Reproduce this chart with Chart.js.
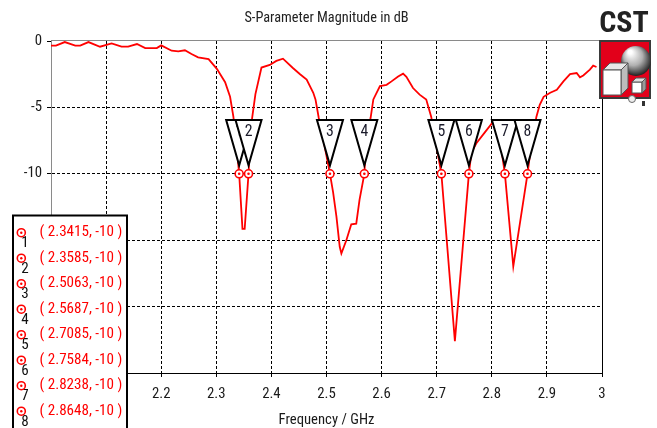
<!DOCTYPE html>
<html><head><meta charset="utf-8">
<script src="https://cdn.jsdelivr.net/npm/chart.js@4.4.0/dist/chart.umd.min.js"></script>
<style>html,body{margin:0;padding:0;background:#fff;overflow:hidden}#wrap{width:657px;height:428px}</style>
</head><body><div id="wrap"><canvas id="c" width="657" height="428"></canvas></div>
<script>
// ---- data ----
const freqGHz = [2.000,2.009,2.025,2.044,2.053,2.068,2.089,2.110,2.128,2.140,2.156,2.171,2.192,2.200,2.219,2.231,2.243,2.255,2.267,2.286,2.301,2.316,2.325,2.331,2.337,2.3415,2.3475,2.3515,2.3585,2.362,2.365,2.371,2.382,2.397,2.409,2.421,2.439,2.452,2.464,2.476,2.480,2.486,2.496,2.5063,2.512,2.518,2.524,2.527,2.536,2.545,2.554,2.560,2.5687,2.572,2.580,2.585,2.597,2.609,2.618,2.630,2.639,2.645,2.657,2.669,2.681,2.690,2.700,2.7085,2.733,2.7584,2.763,2.772,2.787,2.800,2.806,2.815,2.8238,2.839,2.8648,2.872,2.881,2.887,2.894,2.906,2.918,2.930,2.942,2.954,2.960,2.966,2.978,2.984,2.990];
const s11dB   = [-0.35,-0.35,-0.08,-0.35,-0.35,-0.08,-0.43,-0.18,-0.43,-0.43,-0.23,-0.53,-0.53,-0.33,-0.73,-0.78,-0.70,-0.98,-1.23,-1.36,-2.10,-3.10,-4.20,-5.70,-8.0,-10,-14.15,-14.15,-10,-7.2,-5.8,-4.0,-2.0,-1.8,-1.5,-1.33,-2.03,-2.5,-2.9,-3.9,-4.4,-5.8,-7.8,-10,-11.4,-13.2,-15.5,-16.0,-15.0,-13.8,-13.76,-11.95,-10,-7.4,-5.8,-4.4,-3.4,-3.3,-3.04,-2.67,-2.46,-2.7,-3.54,-4.04,-4.4,-5.7,-8.0,-10,-22.6,-10,-8.4,-7.7,-6.9,-6.2,-6.05,-7.5,-10,-16.97,-10,-7.7,-5.7,-4.8,-4.2,-3.9,-3.67,-3.04,-2.5,-2.41,-2.74,-2.6,-2.16,-1.86,-1.96];
const markerFreq = [2.3415,2.3585,2.5063,2.5687,2.7085,2.7584,2.8238,2.8648];
const markerDb   = [-10,-10,-10,-10,-10,-10,-10,-10];
const markerIds  = ['1','2','3','4','5','6','7','8'];
const xTickValues = [2,2.1,2.2,2.3,2.4,2.5,2.6,2.7,2.8,2.9,3];
const xTickLabels = ['2','2.1','2.2','2.3','2.4','2.5','2.6','2.7','2.8','2.9','3'];
const yTickValues = [0,-5,-10,-15,-20,-25];
const yTickLabels = ['0','-5','-10','-15','-20','-25'];
const chartTitle = 'S-Parameter Magnitude in dB';
const xAxisTitle = 'Frequency / GHz';
const logoText = 'CST';

// ---- font selection ----
function hasFont(f){const c=document.createElement('canvas').getContext('2d');c.font='40px monospace';const a=c.measureText('mmwwiilQ.,12').width;c.font='40px "'+f+'", monospace';return c.measureText('mmwwiilQ.,12').width!==a;}
const FONT = ['Roboto Condensed','DejaVu Sans Condensed','Liberation Sans'].find(hasFont) || 'sans-serif';
const FF = '"'+FONT+'", sans-serif';
const mctx = document.createElement('canvas').getContext('2d');
function fit(text, w, weight){mctx.font=(weight||'normal')+' 100px '+FF;return Math.round(1000*w/mctx.measureText(text).width)/10;}
const titleSize = Math.min(17, fit(chartTitle,164));
const tickSize = Math.min(16, fit('2.2',18.5));
const axisTitleSize = Math.min(16, fit(xAxisTitle,96));
const legendSize = Math.min(16, fit('( 2.3415, -10 )',83));
const logoSize = Math.min(30, fit(logoText,53,'bold'));

const RED = '#ff0000';

function ring(ctx,x,y){
  ctx.beginPath();ctx.arc(x,y,4,0,Math.PI*2);ctx.fillStyle='#fff';ctx.fill();
  ctx.lineWidth=1.6;ctx.strokeStyle=RED;ctx.stroke();
  ctx.beginPath();ctx.arc(x,y,1.2,0,Math.PI*2);ctx.fillStyle=RED;ctx.fill();
}

const titlePlugin = {
  id:'plotTitle',
  afterDraw(chart){
    const {ctx, chartArea:a} = chart;
    ctx.save();
    ctx.fillStyle='#222';ctx.font=titleSize+'px '+FF;ctx.textAlign='center';ctx.textBaseline='middle';
    ctx.fillText(chartTitle,(a.left+a.right)/2,18.5);
    ctx.restore();
  }
};

const framePlugin = {
  id:'frame',
  beforeDatasetsDraw(chart){
    const {ctx, chartArea:a} = chart;
    ctx.save();
    ctx.lineWidth=1;
    ctx.strokeStyle='#8a8a8a';
    ctx.beginPath();ctx.moveTo(a.left,Math.round(a.top)-0.5);ctx.lineTo(a.right,Math.round(a.top)-0.5);ctx.stroke();
    ctx.strokeStyle='#000';
    ctx.beginPath();ctx.moveTo(Math.round(a.right)+0.5,a.top);ctx.lineTo(Math.round(a.right)+0.5,a.bottom);ctx.stroke();
    ctx.restore();
  }
};

const trianglePlugin = {
  id:'markerTriangles',
  afterDatasetDraw(chart,args){
    if(chart.data.datasets[args.index].label!=='S1,1') return;
    const ctx=chart.ctx;
    const pts=chart.getDatasetMeta(1).data;
    ctx.save();
    pts.forEach((p,i)=>{
      const x=p.x, y=p.y;
      ctx.beginPath();
      ctx.moveTo(x-13,y-53.7);ctx.lineTo(x+13,y-53.7);ctx.lineTo(x,y-8.5);ctx.closePath();
      ctx.fillStyle='#fff';ctx.fill();
      ctx.lineWidth=2;ctx.strokeStyle='#000';ctx.lineJoin='miter';ctx.stroke();
      ctx.fillStyle='#1a1a2a';ctx.font=(tickSize+1)+'px '+FF;ctx.textAlign='center';ctx.textBaseline='middle';
      ctx.fillText(markerIds[i],x,y-41.5);
    });
    ctx.restore();
  }
};

const tablePlugin = {
  id:'markerTable',
  afterDraw(chart){
    const ctx=chart.ctx;
    const x0=13,y0=215.5,w=114,h=240;
    ctx.save();
    ctx.fillStyle='#fff';ctx.fillRect(x0,y0,w,h);
    ctx.lineWidth=2;ctx.strokeStyle='#000';ctx.strokeRect(x0,y0,w,h);
    markerFreq.forEach((f,i)=>{
      const cy=y0+17.2+i*25.5;
      ctx.fillStyle='#111';ctx.font=legendSize+'px '+FF;ctx.textAlign='center';ctx.textBaseline='middle';
      ctx.fillText(markerIds[i],25,cy+11);
      ring(ctx,21.3,cy);
      ctx.fillStyle=RED;ctx.font=legendSize+'px '+FF;ctx.textAlign='left';ctx.textBaseline='middle';
      ctx.fillText('( '+f.toFixed(4)+', '+markerDb[i]+' )',39.5,cy);
    });
    ctx.restore();
  }
};

const logoPlugin = {
  id:'logo',
  afterDraw(chart){
    const ctx=chart.ctx;
    ctx.save();
    ctx.fillStyle='#222';ctx.font='bold '+logoSize+'px '+FF;ctx.textAlign='center';ctx.textBaseline='alphabetic';
    ctx.fillText(logoText,624,32);
    ctx.fillStyle='#e2001a';ctx.fillRect(600,41,50,57);
    ctx.lineWidth=2;ctx.strokeStyle='#3a3a3a';ctx.strokeRect(600,41,50,57);
    const g=ctx.createRadialGradient(630,52,2,636,60,17);
    g.addColorStop(0,'#ffffff');g.addColorStop(0.5,'#b0b0b0');g.addColorStop(1,'#111');
    ctx.beginPath();ctx.arc(636,61,15,0,Math.PI*2);ctx.fillStyle=g;ctx.fill();
    ctx.strokeStyle='#555';ctx.lineWidth=1;
    ctx.beginPath();ctx.moveTo(603,70);ctx.lineTo(610,63);ctx.lineTo(628,63);ctx.lineTo(621,70);ctx.closePath();ctx.fillStyle='#e8e8e8';ctx.fill();ctx.stroke();
    ctx.beginPath();ctx.moveTo(621,70);ctx.lineTo(628,63);ctx.lineTo(628,88);ctx.lineTo(621,95);ctx.closePath();ctx.fillStyle='#bdbdbd';ctx.fill();ctx.stroke();
    ctx.fillStyle='#fff';ctx.fillRect(603,70,18,25);ctx.strokeRect(603,70,18,25);
    ctx.fillStyle='#fff';ctx.fillRect(632,82,10,11);ctx.strokeRect(632,82,10,11);
    ctx.beginPath();ctx.moveTo(632,82);ctx.lineTo(636,78);ctx.lineTo(646,78);ctx.lineTo(642,82);ctx.closePath();ctx.fillStyle='#ddd';ctx.fill();ctx.stroke();
    ctx.beginPath();ctx.moveTo(642,82);ctx.lineTo(646,78);ctx.lineTo(646,89);ctx.lineTo(642,93);ctx.closePath();ctx.fillStyle='#999';ctx.fill();ctx.stroke();
    ctx.beginPath();ctx.arc(632,99,3.5,0,Math.PI*2);ctx.fillStyle='#eee';ctx.fill();ctx.strokeStyle='#666';ctx.stroke();
    ctx.fillStyle='#333';ctx.fillRect(642,101,3,5);
    ctx.restore();
  }
};

const gridColor = (ctx, edges) => (ctx.tick && edges.includes(ctx.tick.value)) ? 'rgba(0,0,0,0)' : '#000';

new Chart(document.getElementById('c'), {
  type:'line',
  data:{
    datasets:[
      {label:'dot', data:markerFreq.map((f,i)=>({x:f,y:markerDb[i]})), showLine:false, pointRadius:1.3, pointBackgroundColor:RED, pointBorderWidth:0, pointBorderColor:RED},
      {label:'ring', data:markerFreq.map((f,i)=>({x:f,y:markerDb[i]})), showLine:false, pointRadius:4, pointBackgroundColor:'#fff', pointBorderWidth:1.6, pointBorderColor:RED},
      {label:'S1,1', data:freqGHz.map((f,i)=>({x:f,y:s11dB[i]})), borderColor:RED, borderWidth:1.8, pointRadius:0, tension:0, fill:false}
    ]
  },
  options:{
    responsive:false, animation:false, devicePixelRatio:1, events:[],
    layout:{padding:{left:0,right:55,top:41,bottom:0}},
    plugins:{
      legend:{display:false}, tooltip:{enabled:false}, title:{display:false}
    },
    scales:{
      x:{type:'linear', min:2, max:3,
        afterBuildTicks:(s)=>{s.ticks=xTickValues.map(v=>({value:v}));},
        afterFit:(s)=>{s.height=55;},
        ticks:{autoSkip:false, maxRotation:0, padding:8, color:'#1a1a1a', font:{family:FF,size:tickSize},
          callback:(v)=>{const i=xTickValues.findIndex(t=>Math.abs(t-v)<1e-9);return i>=0?xTickLabels[i]:'';}},
        grid:{color:(c)=>gridColor(c,[2,3]), tickColor:'#000', tickLength:4, lineWidth:1},
        border:{display:true, color:'#000', width:1, dash:[3,2]},
        title:{display:true, text:xAxisTitle, color:'#1a1a1a', font:{family:FF,size:axisTitleSize,lineHeight:1}, padding:{top:0,bottom:0}}
      },
      y:{type:'linear', min:-25, max:0,
        afterBuildTicks:(s)=>{s.ticks=yTickValues.map(v=>({value:v}));},
        afterFit:(s)=>{s.width=51;},
        ticks:{autoSkip:false, padding:5, color:'#1a1a1a', font:{family:FF,size:tickSize},
          callback:(v)=>{const i=yTickValues.findIndex(t=>Math.abs(t-v)<1e-9);return i>=0?yTickLabels[i]:'';}},
        grid:{color:(c)=>gridColor(c,[0,-25]), tickColor:'#000', tickLength:4, lineWidth:1},
        border:{display:true, color:'#8a8a8a', width:1, dash:[3,2]}
      }
    }
  },
  plugins:[framePlugin, trianglePlugin, tablePlugin, logoPlugin, titlePlugin]
});
</script></body></html>
